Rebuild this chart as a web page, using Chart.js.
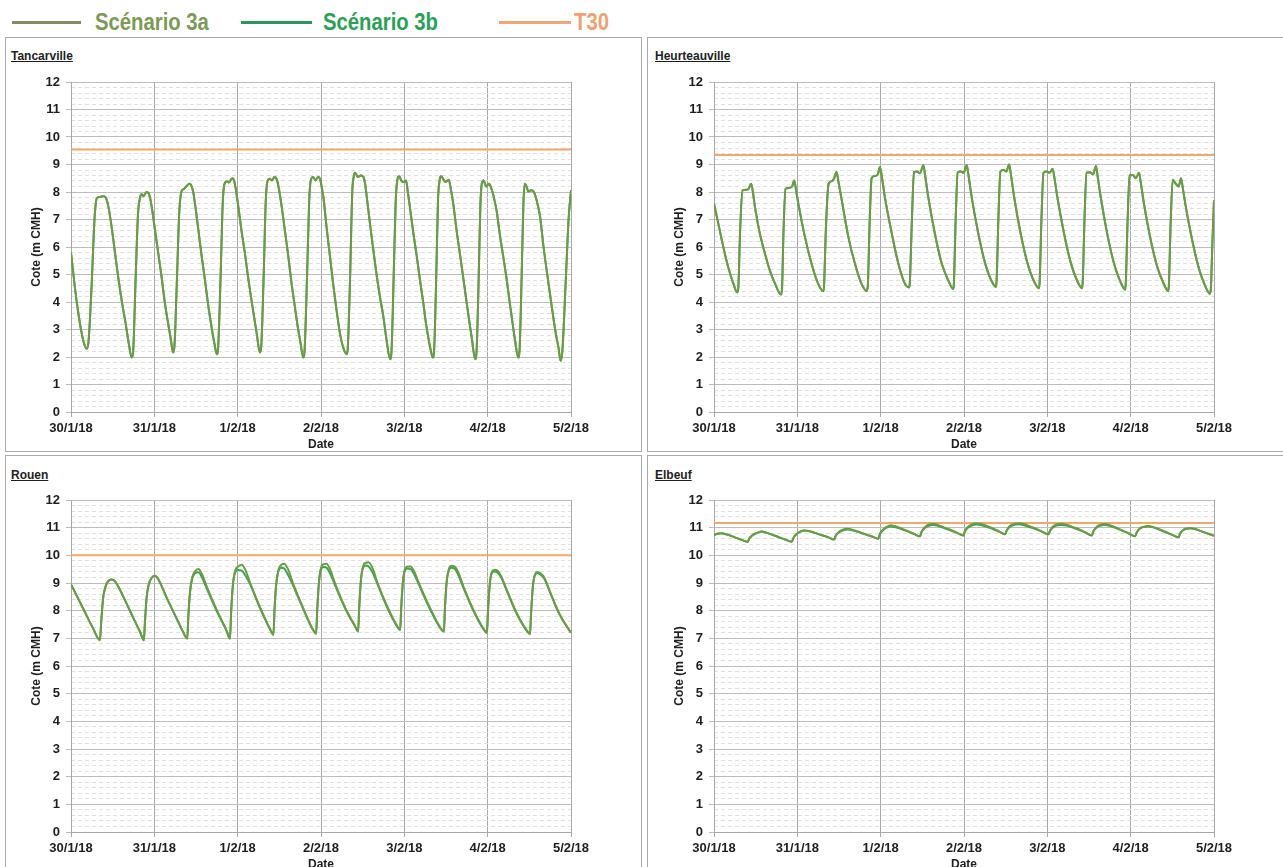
<!DOCTYPE html>
<html>
<head>
<meta charset="utf-8">
<title>Cotes Seine - scénarios 3a / 3b</title>
<script src="https://cdn.jsdelivr.net/npm/chart.js@4.4.1/dist/chart.umd.min.js"></script>
<style>
  body { margin: 0; background: #fff; width: 1283px; height: 867px; overflow: hidden; position: relative;
         font-family: "Liberation Sans", Arial, sans-serif; }
  .panel { position: absolute; border: 1px solid #a9a9a9; box-sizing: border-box; background: #fff; }
  .ptitle { position: absolute; font-weight: bold; font-size: 12px; line-height: 14px; text-decoration: underline; color: #1e1e1e; }
  canvas { position: absolute; }
  .leg-line { position: absolute; height: 3px; top: 21px; }
  .leg-text { position: absolute; top: 8px; font-weight: bold; font-size: 24px; line-height: 28px;
              transform-origin: 0 0; transform: scaleX(0.845); white-space: nowrap; }
</style>
</head>
<body>

<div class="leg-line" style="left:12px;width:69px;background:#838d61"></div>
<div class="leg-text" style="left:95px;color:#7a9a55">Scénario 3a</div>
<div class="leg-line" style="left:241px;width:71px;background:#2c9460"></div>
<div class="leg-text" style="left:323px;color:#2aa055">Scénario 3b</div>
<div class="leg-line" style="left:499px;width:72px;background:#f0a878"></div>
<div class="leg-text" style="left:574px;color:#f0a070">T30</div>

<div class="panel" style="left:5px;top:37px;width:637px;height:415px"></div>
<div class="panel" style="left:647px;top:37px;width:640px;height:415px"></div>
<div class="panel" style="left:5px;top:455px;width:637px;height:420px"></div>
<div class="panel" style="left:647px;top:455px;width:640px;height:420px"></div>

<div class="ptitle" style="left:11px;top:49px">Tancarville</div>
<div class="ptitle" style="left:655px;top:49px">Heurteauville</div>
<div class="ptitle" style="left:11px;top:468px">Rouen</div>
<div class="ptitle" style="left:655px;top:468px">Elbeuf</div>

<canvas id="cTancarville" width="634" height="412" style="left:6px;top:38px"></canvas>
<canvas id="cHeurteauville" width="634" height="412" style="left:649px;top:38px"></canvas>
<canvas id="cRouen" width="634" height="414" style="left:6px;top:456px"></canvas>
<canvas id="cElbeuf" width="634" height="414" style="left:649px;top:456px"></canvas>

<script>
// x axis: hours since 30/1/18 00:00, one tick per day
const dateLabels = ["30/1/18", "31/1/18", "1/2/18", "2/2/18", "3/2/18", "4/2/18", "5/2/18"];

// T30 level for each station (Tancarville, Heurteauville, Rouen, Elbeuf)
const t30Levels = [9.55, 9.35, 10.0, 11.17];

// Tancarville (scénarios 3a and 3b coincide here)
const tancarvilleHours = [
  0, 1.15, 2.1, 3.1, 4.0,
  4.5, 5.0, 5.9, 6.7, 7.2, 7.6, 8.4, 9.3, 10.0, 10.8, 11.7, 12.7, 13.6, 14.6, 15.6, 16.5,
  17.5, 17.9, 18.6, 19.3, 19.9, 20.3, 20.9, 21.7, 22.4, 23.2, 24.1, 25.1, 26.1, 27.0, 28.0, 28.8,
  29.4, 29.8, 30.5, 31.2, 31.9, 32.4, 33.2, 34.1, 34.6, 35.2, 36.0, 36.7, 37.6, 38.6, 39.5, 40.5, 41.3,
  42.0, 42.4, 43.1, 43.7, 44.2, 44.8, 45.5, 46.4, 47.0, 47.6, 48.2, 49.1, 50.1, 51.0, 52.0, 52.8, 53.5,
  54.4, 54.8, 55.5, 56.1, 56.6, 57.2, 57.9, 58.6, 59.3, 59.9, 60.7, 61.6, 62.6, 63.5, 64.5, 65.3, 66.0,
  66.9, 67.3, 68.0, 68.6, 69.1, 69.7, 70.4, 71.2, 71.8, 72.3, 72.7, 73.6, 74.6, 75.5, 76.5, 77.5, 78.4,
  79.4, 79.7, 80.4, 81.0, 81.5, 81.8, 82.6, 83.5, 84.2, 84.7, 85.2, 86.1, 87.1, 88.0, 89.0, 90.0, 90.9,
  91.9, 92.3, 92.9, 93.5, 94.0, 94.5, 95.2, 95.9, 96.5, 97.0, 97.6, 98.6, 99.6, 100.5, 101.5, 102.2, 102.9, 103.6,
  104.2, 104.6, 105.2, 105.7, 106.2, 106.6, 107.3, 107.8, 108.8, 109.4, 110.1, 111.0, 112.0, 113.0, 114.0, 114.7, 115.4,
  116.4, 116.8, 117.4, 117.9, 118.3, 118.8, 119.6, 120.4, 121.0, 121.6, 122.6, 123.5, 124.5, 125.5, 126.4, 127.2, 127.9,
  128.8, 129.2, 129.8, 130.3, 130.7, 131.2, 131.7, 132.5, 133.3, 134.1, 135.1, 136.0, 137.0, 138.0, 138.9, 139.7, 140.4,
  141.0, 141.5, 142.5, 143.3, 144.0
];
const tancarville3a = [
  5.8, 4.5, 3.6, 2.85, 2.4,
  2.3, 2.5, 4.5, 6.85, 7.65, 7.8, 7.82, 7.85, 7.8, 7.45, 6.72, 5.76, 4.9, 4.05, 3.32, 2.6,
  1.98, 2.2, 4.8, 7.2, 7.8, 7.92, 7.85, 8.0, 7.95, 7.5, 6.7, 5.8, 4.9, 4.0, 3.2, 2.6,
  2.16, 2.4, 4.8, 7.3, 8.05, 8.1, 8.2, 8.3, 8.25, 8.0, 7.3, 6.6, 5.7, 4.78, 3.9, 3.07, 2.5,
  2.1, 2.4, 5.0, 7.6, 8.3, 8.38, 8.35, 8.5, 8.4, 8.0, 7.45, 6.6, 5.76, 4.9, 4.05, 3.4, 2.84,
  2.16, 2.4, 5.0, 7.7, 8.4, 8.48, 8.42, 8.55, 8.45, 8.1, 7.45, 6.6, 5.64, 4.7, 3.8, 3.1, 2.59,
  1.98, 2.3, 5.0, 7.7, 8.45, 8.55, 8.42, 8.55, 8.45, 8.1, 7.8, 6.72, 5.64, 4.66, 3.68, 2.83, 2.34,
  2.1, 2.3, 5.0, 8.0, 8.6, 8.7, 8.55, 8.6, 8.55, 8.3, 7.8, 6.85, 5.87, 5.0, 4.17, 3.44, 2.59,
  1.92, 2.2, 4.8, 7.6, 8.45, 8.57, 8.4, 8.36, 8.42, 8.0, 7.45, 6.5, 5.64, 4.8, 3.93, 3.25, 2.71, 2.25,
  1.98, 2.3, 5.0, 7.7, 8.45, 8.57, 8.45, 8.36, 8.45, 8.1, 7.57, 6.65, 5.76, 4.85, 3.93, 3.3, 2.71,
  1.92, 2.2, 4.8, 7.5, 8.3, 8.42, 8.2, 8.3, 8.15, 7.9, 7.3, 6.45, 5.64, 4.8, 3.93, 3.2, 2.59,
  1.98, 2.3, 5.0, 7.6, 8.3, 8.2, 8.02, 8.06, 8.0, 7.7, 7.1, 6.1, 5.14, 4.25, 3.44, 2.8, 2.34,
  1.86, 2.2, 4.8, 7.0, 8.06
];
const tancarville3b = tancarville3a;

// Heurteauville (3a and 3b coincide)
const heurteauvilleHours = [
  0, 1.25, 2.7, 4.1, 5.6,
  6.7, 7.0, 7.5, 8.2, 9.2, 9.9, 10.7, 11.2, 11.8, 13.2, 14.7, 16.1, 17.6,
  19.3, 19.6, 20.0, 20.6, 21.6, 22.5, 23.1, 23.6, 24.3, 26.2, 28.1, 30.0,
  31.5, 31.7, 32.2, 33.0, 34.0, 34.6, 35.3, 35.8, 36.8, 38.7, 40.6, 42.5,
  44.0, 44.3, 44.8, 45.4, 46.3, 47.2, 47.8, 48.4, 49.2, 51.2, 53.1, 55.0,
  56.2, 56.4, 57.0, 57.6, 58.5, 59.3, 60.3, 60.8, 61.7, 63.6, 65.6, 67.5,
  68.9, 69.1, 69.6, 70.2, 71.0, 71.9, 72.8, 73.3, 74.2, 76.1, 78.0, 79.8,
  81.2, 81.4, 81.9, 82.5, 83.4, 84.2, 85.0, 85.5, 86.4, 88.3, 90.2, 92.0,
  93.6, 93.8, 94.3, 94.9, 95.8, 96.7, 97.5, 98.0, 98.9, 100.8, 102.7, 104.5,
  106.0, 106.2, 106.7, 107.3, 108.2, 109.2, 110.0, 110.5, 111.4, 113.3, 115.2, 117.0,
  118.4, 118.6, 119.1, 119.7, 120.6, 121.5, 122.4, 122.9, 123.8, 125.7, 127.6, 129.4,
  130.8, 131.0, 131.5, 132.1, 133.0, 133.8, 134.5, 135.0, 135.9, 137.8, 139.7, 141.4,
  142.8, 143.1, 143.5, 144.0
];
const heurteauville3a = [
  7.57, 6.85, 5.99, 5.26, 4.66,
  4.35, 4.5, 6.5, 8.06, 8.08, 8.1, 8.3, 8.0, 7.45, 6.49, 5.75, 5.14, 4.66,
  4.27, 4.5, 6.5, 8.12, 8.15, 8.2, 8.42, 8.1, 7.57, 6.36, 5.39, 4.66,
  4.39, 4.6, 6.6, 8.3, 8.4, 8.5, 8.73, 8.4, 7.7, 6.36, 5.39, 4.66,
  4.4, 4.6, 6.8, 8.5, 8.58, 8.65, 8.91, 8.5, 7.82, 6.49, 5.39, 4.66,
  4.53, 4.7, 7.0, 8.73, 8.75, 8.68, 8.97, 8.6, 7.82, 6.49, 5.39, 4.78,
  4.47, 4.7, 7.0, 8.72, 8.75, 8.7, 8.97, 8.6, 7.82, 6.5, 5.45, 4.8,
  4.55, 4.8, 7.0, 8.75, 8.8, 8.75, 9.0, 8.65, 7.85, 6.5, 5.45, 4.8,
  4.5, 4.75, 7.0, 8.7, 8.75, 8.7, 8.85, 8.55, 7.8, 6.5, 5.45, 4.8,
  4.5, 4.75, 7.0, 8.7, 8.72, 8.65, 8.95, 8.55, 7.8, 6.45, 5.4, 4.75,
  4.45, 4.7, 6.9, 8.6, 8.62, 8.5, 8.7, 8.35, 7.6, 6.3, 5.3, 4.7,
  4.4, 4.6, 6.8, 8.45, 8.3, 8.2, 8.5, 8.15, 7.45, 6.2, 5.2, 4.6,
  4.3, 4.5, 6.0, 7.7
];
const heurteauville3b = heurteauville3a;

// Rouen
const rouenHours = [
  0, 3.5, 6.4,
  8.35, 8.7, 9.3, 9.9, 10.6, 11.5, 12.4, 13.5, 15.1, 18.0, 19.9,
  21.0, 21.3, 21.8, 22.4, 23.2, 24.2, 25.3, 27.5, 30.4, 32.3,
  33.5, 33.8, 34.3, 34.9, 35.7, 36.7, 37.8, 39.1, 42.0, 44.8,
  45.8, 46.1, 46.6, 47.3, 48.2, 49.2, 50.3, 51.6, 54.4, 57.3,
  58.3, 58.6, 59.1, 59.8, 60.6, 61.4, 62.5, 64.0, 66.9, 69.8,
  70.6, 70.9, 71.4, 72.0, 72.8, 73.6, 74.6, 76.1, 79.0, 81.8,
  82.7, 83.0, 83.5, 84.1, 84.9, 85.7, 86.8, 88.3, 91.1, 93.9,
  94.8, 95.1, 95.6, 96.2, 97.0, 97.8, 98.9, 100.5, 103.4, 106.3,
  107.4, 107.7, 108.2, 108.8, 109.6, 110.4, 111.5, 113.1, 116.0, 118.8,
  119.8, 120.1, 120.6, 121.2, 122.0, 122.8, 123.9, 125.5, 128.4, 131.2,
  132.2, 132.5, 133.0, 133.6, 134.4, 135.2, 136.3, 137.9, 140.8, 144.0
];
const rouen3a = [
  8.95, 8.08, 7.35,
  6.93, 7.6, 8.5, 8.85, 9.05, 9.13, 9.1, 8.9, 8.5, 7.72, 7.23,
  6.93, 7.6, 8.5, 8.95, 9.18, 9.26, 9.1, 8.48, 7.72, 7.23,
  6.99, 7.8, 8.7, 9.2, 9.42, 9.51, 9.3, 8.87, 8.02, 7.29,
  6.99, 7.9, 8.9, 9.45, 9.6, 9.66, 9.45, 9.0, 8.14, 7.35,
  7.13, 8.0, 8.95, 9.5, 9.66, 9.7, 9.5, 8.97, 8.08, 7.29,
  7.17, 8.0, 9.0, 9.55, 9.68, 9.7, 9.5, 8.97, 8.1, 7.45,
  7.25, 8.1, 9.1, 9.6, 9.73, 9.75, 9.55, 9.0, 8.15, 7.45,
  7.3, 8.1, 9.05, 9.5, 9.6, 9.6, 9.4, 8.9, 8.1, 7.4,
  7.25, 8.1, 9.05, 9.5, 9.62, 9.6, 9.4, 8.85, 8.0, 7.35,
  7.2, 8.0, 8.95, 9.4, 9.48, 9.45, 9.25, 8.75, 7.9, 7.3,
  7.15, 7.9, 8.85, 9.3, 9.4, 9.35, 9.2, 8.7, 7.85, 7.2
];
const rouen3b = [
  8.95, 8.08, 7.35,
  6.93, 7.6, 8.5, 8.85, 9.05, 9.13, 9.1, 8.9, 8.5, 7.72, 7.23,
  6.93, 7.6, 8.5, 8.95, 9.18, 9.26, 9.1, 8.48, 7.72, 7.23,
  6.99, 7.8, 8.7, 9.15, 9.35, 9.39, 9.18, 8.8, 7.98, 7.27,
  6.99, 7.9, 8.9, 9.4, 9.47, 9.45, 9.25, 8.95, 8.1, 7.33,
  7.13, 8.0, 8.95, 9.45, 9.55, 9.52, 9.3, 8.9, 8.05, 7.28,
  7.17, 8.0, 9.0, 9.5, 9.58, 9.55, 9.35, 8.9, 8.07, 7.43,
  7.25, 8.1, 9.1, 9.55, 9.63, 9.6, 9.4, 8.95, 8.1, 7.43,
  7.3, 8.1, 9.05, 9.45, 9.52, 9.5, 9.3, 8.85, 8.05, 7.38,
  7.25, 8.1, 9.05, 9.45, 9.55, 9.52, 9.3, 8.8, 7.97, 7.33,
  7.2, 8.0, 8.95, 9.35, 9.42, 9.38, 9.2, 8.72, 7.88, 7.28,
  7.15, 7.9, 8.85, 9.28, 9.35, 9.3, 9.15, 8.68, 7.84, 7.2
];

// Elbeuf
const elbeufHours = [
  0, 1.0, 2.2, 3.5, 6.0, 8.0,
  9.7, 10.2, 11.0, 11.8, 13.0, 13.7, 15.0, 18.0, 20.5,
  22.4, 22.9, 23.7, 24.7, 26.2, 27.5, 30.5, 33.0,
  34.6, 35.1, 35.9, 36.9, 38.5, 39.8, 42.8, 45.5,
  47.3, 47.8, 48.6, 49.6, 50.8, 52.0, 55.0, 57.6,
  59.3, 59.8, 60.6, 61.6, 63.2, 64.4, 67.5, 70.0,
  71.8, 72.3, 73.1, 74.2, 75.8, 77.0, 80.0, 82.2,
  83.8, 84.3, 85.1, 86.2, 87.8, 89.0, 92.0, 94.5,
  96.3, 96.8, 97.6, 98.6, 100.1, 101.5, 104.5, 107.0,
  108.8, 109.3, 110.1, 111.1, 112.6, 113.9, 116.8, 119.4,
  121.3, 121.8, 122.6, 123.6, 125.1, 126.4, 129.4, 132.0,
  133.8, 134.2, 135.0, 135.9, 137.1, 138.3, 141.0, 144.0
];
const elbeuf3a = [
  10.73, 10.78, 10.8, 10.76, 10.65, 10.56,
  10.49, 10.62, 10.72, 10.78, 10.84, 10.86, 10.82, 10.69, 10.57,
  10.49, 10.64, 10.76, 10.85, 10.9, 10.87, 10.75, 10.65,
  10.57, 10.72, 10.84, 10.92, 10.96, 10.93, 10.8, 10.68,
  10.6, 10.78, 10.92, 11.02, 11.09, 11.06, 10.92, 10.78,
  10.69, 10.86, 11.0, 11.1, 11.14, 11.1, 10.95, 10.82,
  10.72, 10.88, 11.03, 11.12, 11.16, 11.13, 10.99, 10.86,
  10.76, 10.9, 11.05, 11.13, 11.16, 11.14, 11.0, 10.86,
  10.76, 10.9, 11.04, 11.12, 11.14, 11.11, 10.97, 10.83,
  10.72, 10.88, 11.02, 11.1, 11.13, 11.1, 10.95, 10.8,
  10.69, 10.84, 10.97, 11.03, 11.06, 11.03, 10.88, 10.74,
  10.65, 10.78, 10.9, 10.96, 10.98, 10.96, 10.84, 10.71
];
const elbeuf3b = [
  10.73, 10.78, 10.8, 10.76, 10.65, 10.56,
  10.49, 10.62, 10.72, 10.78, 10.84, 10.86, 10.82, 10.69, 10.57,
  10.49, 10.64, 10.76, 10.85, 10.9, 10.87, 10.75, 10.65,
  10.57, 10.72, 10.82, 10.89, 10.93, 10.91, 10.79, 10.68,
  10.6, 10.77, 10.9, 10.99, 11.04, 11.02, 10.9, 10.77,
  10.69, 10.85, 10.98, 11.06, 11.1, 11.07, 10.93, 10.81,
  10.72, 10.87, 11.0, 11.08, 11.11, 11.09, 10.97, 10.85,
  10.76, 10.89, 11.02, 11.09, 11.12, 11.1, 10.98, 10.85,
  10.76, 10.89, 11.01, 11.08, 11.1, 11.08, 10.95, 10.82,
  10.72, 10.87, 11.0, 11.07, 11.1, 11.07, 10.93, 10.79,
  10.69, 10.84, 10.96, 11.02, 11.04, 11.01, 10.87, 10.74,
  10.65, 10.78, 10.9, 10.96, 10.98, 10.96, 10.84, 10.71
];

const FONT = '"Liberation Sans", Arial, sans-serif';
const COLOR_3A = "#6f9a45";
const COLOR_3B = "#36a852";
const COLOR_T30 = "#f4a66c";
const TEXT = "#1e1e1e";

function buildPanel(canvasId, hours, s3a, s3b, t30, plotHeight) {
  const points = vals => hours.map((h, i) => ({ x: h, y: vals[i] }));
  const canvas = document.getElementById(canvasId);
  const xAxisHeight = canvas.height - 44 - plotHeight;

  new Chart(canvas, {
    type: "line",
    data: {
      datasets: [
        { label: "Scénario 3a", data: points(s3a), borderColor: COLOR_3A, borderWidth: 2,
          pointRadius: 0, cubicInterpolationMode: "monotone" },
        { label: "Scénario 3b", data: points(s3b), borderColor: COLOR_3B, borderWidth: 2,
          pointRadius: 0, cubicInterpolationMode: "monotone" },
        { label: "T30", data: [{ x: 0, y: t30 }, { x: 144, y: t30 }], borderColor: COLOR_T30,
          borderWidth: 2, pointRadius: 0 }
      ]
    },
    options: {
      responsive: false,
      animation: false,
      events: [],
      layout: { padding: { top: 44, right: 69, left: 0, bottom: 0 } },
      plugins: { legend: { display: false }, tooltip: { enabled: false } },
      scales: {
        x: {
          type: "linear", position: "bottom", min: 0, max: 144,
          afterFit: s => { s.height = xAxisHeight; },
          ticks: {
            stepSize: 24, autoSkip: false, maxRotation: 0, padding: 4, color: TEXT,
            font: { family: FONT, size: 13, weight: "bold" },
            callback: (v, i) => dateLabels[i]
          },
          grid: { color: "#a8a8a8", tickLength: 5 },
          border: { color: "#a8a8a8" },
          title: { display: true, text: "Date", padding: { top: 0, bottom: -2 }, color: TEXT,
                   font: { family: FONT, size: 12, weight: "bold" } }
        },
        yMinor: {
          type: "linear", position: "left", min: 0, max: 12, z: -1,
          afterFit: s => { s.width = 0; },
          ticks: { display: false, stepSize: 0.2, maxTicksLimit: 100 },
          grid: { color: "#e0e0e0", drawTicks: false },
          border: { display: false, dash: [4, 3] }
        },
        y: {
          type: "linear", position: "left", min: 0, max: 12,
          afterFit: s => { s.width = 65; },
          ticks: { stepSize: 1, padding: 6, color: TEXT, font: { family: FONT, size: 13, weight: "bold" } },
          grid: { color: "#bdbdbd", tickLength: 5 },
          border: { color: "#a8a8a8" },
          title: { display: true, text: "Cote (m CMH)", padding: { top: 23, bottom: 0 }, color: TEXT,
                   font: { family: FONT, size: 12, weight: "bold" } }
        }
      }
    }
  });
}

buildPanel("cTancarville", tancarvilleHours, tancarville3a, tancarville3b, t30Levels[0], 330);
buildPanel("cHeurteauville", heurteauvilleHours, heurteauville3a, heurteauville3b, t30Levels[1], 330);
buildPanel("cRouen", rouenHours, rouen3a, rouen3b, t30Levels[2], 332);
buildPanel("cElbeuf", elbeufHours, elbeuf3a, elbeuf3b, t30Levels[3], 332);
</script>
</body>
</html>
